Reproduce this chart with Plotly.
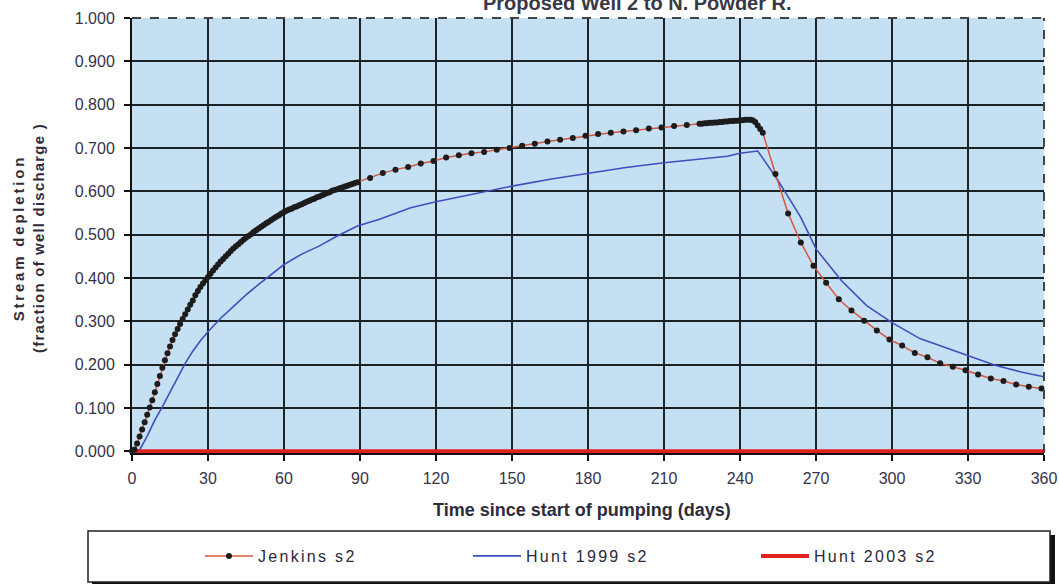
import plotly.graph_objects as go

# ---------------- data ----------------
jenkins_t = (list(range(0, 90)) + list(range(94, 225, 5)) +
             list(range(225, 250)) + list(range(254, 360, 5)))
jenkins_v = [
    0.000, 0.004, 0.018, 0.034, 0.050, 0.067, 0.084, 0.101, 0.118, 0.136,
    0.155, 0.174, 0.193, 0.210, 0.226, 0.242, 0.257, 0.270, 0.282, 0.294,
    0.305, 0.316, 0.327, 0.338, 0.348, 0.360, 0.370, 0.379, 0.387, 0.395,
    0.402, 0.410, 0.417, 0.424, 0.431, 0.438, 0.444, 0.450, 0.456, 0.462,
    0.468, 0.473, 0.478, 0.483, 0.488, 0.493, 0.497, 0.501, 0.506, 0.510,
    0.514, 0.518, 0.522, 0.526, 0.530, 0.534, 0.538, 0.541, 0.545, 0.549,
    0.552, 0.555, 0.558, 0.560, 0.563, 0.565, 0.568, 0.570, 0.573, 0.576,
    0.578, 0.581, 0.583, 0.586, 0.588, 0.591, 0.593, 0.596, 0.598, 0.601,
    0.603, 0.605, 0.607, 0.609, 0.611, 0.613, 0.615, 0.617, 0.619, 0.621,
    # every ~5 days
    0.631, 0.642, 0.650, 0.656, 0.664, 0.670, 0.678, 0.683, 0.688, 0.691,
    0.696, 0.700, 0.705, 0.710, 0.715, 0.719, 0.723, 0.728, 0.732, 0.735,
    0.738, 0.741, 0.745, 0.747, 0.751, 0.753, 0.756,
    # daily near end of pumping
    0.756, 0.757, 0.757, 0.758, 0.758, 0.759, 0.759, 0.760, 0.760, 0.761,
    0.761, 0.762, 0.762, 0.763, 0.763, 0.764, 0.764, 0.765, 0.765, 0.765,
    0.764, 0.760, 0.752, 0.744, 0.735,
    # recovery
    0.640, 0.549, 0.482, 0.428, 0.389, 0.351, 0.325, 0.301, 0.279, 0.258,
    0.244, 0.227, 0.217, 0.203, 0.195, 0.187, 0.177, 0.168, 0.162, 0.154,
    0.149, 0.145,
]

hunt1999_t = [0, 3, 6, 9, 12, 15, 18, 21, 24, 27, 30, 35, 40, 45, 50, 55, 60,
              67, 74, 81, 89, 98, 110, 120, 137, 150, 165, 181, 195, 210, 225,
              235, 240, 244, 247, 250, 255, 260, 264, 270, 280, 290, 300, 311,
              322, 331, 341, 351, 360]
hunt1999_v = [0.000, 0.003, 0.035, 0.072, 0.103, 0.136, 0.172, 0.203, 0.231,
              0.255, 0.276, 0.307, 0.334, 0.361, 0.385, 0.409, 0.431, 0.455,
              0.474, 0.497, 0.520, 0.536, 0.562, 0.576, 0.597, 0.612, 0.628,
              0.643, 0.655, 0.666, 0.676, 0.681, 0.688, 0.691, 0.693, 0.668,
              0.625, 0.578, 0.540, 0.467, 0.394, 0.336, 0.297, 0.260, 0.237,
              0.218, 0.198, 0.183, 0.172]

hunt2003_t = [0, 82, 83, 290, 291, 360]
hunt2003_v = [0.000, 0.000, 0.002, 0.002, 0.000, 0.000]

x_ticks = [0, 30, 60, 90, 120, 150, 180, 210, 240, 270, 300, 330, 360]
y_ticks = [0.0, 0.1, 0.2, 0.3, 0.4, 0.5, 0.6, 0.7, 0.8, 0.9, 1.0]

series_names = ["Jenkins s2", "Hunt 1999 s2", "Hunt 2003 s2"]
title_text = "Proposed Well 2 to N. Powder R."
x_title = "Time since start of pumping (days)"
y_title_lines = ["Stream depletion", "(fraction of well discharge )"]

# ---------------- figure ----------------
W, H = 1059, 584
L, R, T, B = 132, 15, 18, 131
PW, PH = W - L - R, H - T - B

def px_x(p):
    return (p - L) / PW

def px_y(p):
    return (H - B - p) / PH

TXT = "#35324a"
LEG_SP = "letter-spacing:2.3px"

def leg(name):
    return f'<span style="{LEG_SP}">{name}</span>'

fig = go.Figure()

fig.add_trace(go.Scatter(
    x=hunt1999_t, y=hunt1999_v, mode="lines", name=leg(series_names[1]),
    line=dict(color="#3f4fbf", width=1.6), legend="legend2"))

fig.add_trace(go.Scatter(
    x=hunt2003_t, y=hunt2003_v, mode="lines", name=leg(series_names[2]),
    line=dict(color="#e0221e", width=4), legend="legend3"))

fig.add_trace(go.Scatter(
    x=jenkins_t, y=jenkins_v, mode="lines+markers", name=leg(series_names[0]),
    line=dict(color="#d8563f", width=1.5),
    marker=dict(color="#1c1c1c", size=6), cliponaxis=False,
    legend="legend"))

grid_col = "#1b2326"
fig.update_xaxes(
    range=[0, 360], tickvals=x_ticks, ticktext=[str(v) for v in x_ticks],
    showgrid=True, gridcolor=grid_col, gridwidth=2,
    showline=True, linecolor="#111", linewidth=2,
    ticks="outside", ticklen=6, tickwidth=2, tickcolor="#111",
    tickfont=dict(family="Liberation Sans, Arial", size=16, color=TXT),
    ticklabelstandoff=4, zeroline=False, layer="below traces",
    automargin=False)
fig.update_yaxes(
    range=[-0.004, 1.0], tickvals=y_ticks,
    ticktext=[f"{v:.3f}" for v in y_ticks],
    showgrid=True, gridcolor=grid_col, gridwidth=2,
    showline=True, linecolor="#111", linewidth=2,
    ticks="outside", ticklen=6, tickwidth=2, tickcolor="#111",
    tickfont=dict(family="Liberation Sans, Arial", size=16, color=TXT),
    ticklabelstandoff=6, zeroline=False, layer="below traces",
    automargin=False)

shapes = [
    # dashed top and right frame of the plot area
    dict(type="line", xref="paper", yref="paper", x0=0, x1=1, y0=1, y1=1,
         line=dict(color="#444", width=2, dash="dash"), layer="above"),
    dict(type="line", xref="paper", yref="paper", x0=1, x1=1, y0=0, y1=1,
         line=dict(color="#444", width=2, dash="dash"), layer="above"),
    # legend box with shadow
    dict(type="rect", xref="paper", yref="paper",
         x0=px_x(92), x1=px_x(1055), y0=px_y(586), y1=px_y(535),
         fillcolor="#111", line=dict(width=0), layer="below"),
    dict(type="rect", xref="paper", yref="paper",
         x0=px_x(88), x1=px_x(1050), y0=px_y(582), y1=px_y(531),
         fillcolor="white", line=dict(color="#222", width=1.5), layer="below"),
]

ytitle = (f'<b><span style="letter-spacing:2.8px">{y_title_lines[0]}</span></b><br>'
          f'<b><span style="letter-spacing:1.2px">{y_title_lines[1]}</span></b>')

annotations = [
    dict(text=f"<b>{title_text}</b>", xref="paper", yref="paper",
         x=px_x(637), y=px_y(3), xanchor="center", yanchor="middle",
         showarrow=False, font=dict(family="Liberation Sans, Arial", size=20, color="#3a3848")),
    dict(text=f"<b>{x_title}</b>", xref="paper", yref="paper",
         x=px_x(582), y=px_y(510), xanchor="center", yanchor="middle",
         showarrow=False, font=dict(family="Liberation Sans, Arial", size=18, color="#2e2b3a")),
    dict(text=ytitle, xref="paper", yref="paper", textangle=-90,
         x=px_x(28), y=px_y(238), xanchor="center", yanchor="middle",
         showarrow=False, font=dict(family="Liberation Sans, Arial", size=15, color="#2e2b3a")),
]

def legend_at(px_left):
    return dict(xref="container", yref="container", x=px_left / W,
                y=1 - 556 / H, xanchor="left", yanchor="middle",
                orientation="h", bgcolor="rgba(0,0,0,0)", borderwidth=0,
                itemwidth=48,
                font=dict(family="Liberation Sans, Arial", size=16, color="#2a2838"))

fig.update_layout(
    width=W, height=H, autosize=False,
    margin=dict(l=L, r=R, t=T, b=B, pad=0, autoexpand=False),
    paper_bgcolor="white", plot_bgcolor="#c6e0f3",
    showlegend=True,
    legend=legend_at(200),
    legend2=legend_at(468),
    legend3=legend_at(756),
    shapes=shapes, annotations=annotations,
)

fig.write_html(
    "out.html",
    config={"displayModeBar": False},
    post_script="document.body.style.margin='0';document.body.style.padding='0';",
)
